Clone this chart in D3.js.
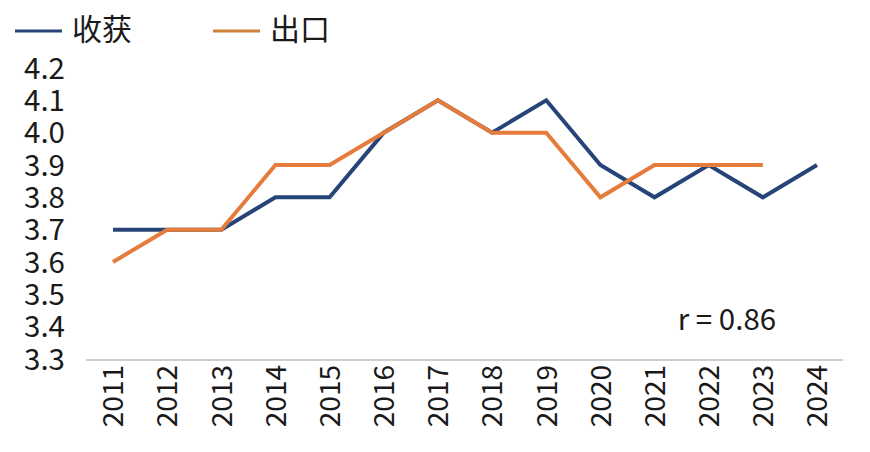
<!DOCTYPE html>
<html><head><meta charset="utf-8">
<script src="https://cdn.jsdelivr.net/npm/d3@7"></script>
<style>body{margin:0;background:#fff}svg{display:block}text{font-family:"Noto Sans CJK SC","Noto Sans",sans-serif;fill:#1a1a1a}</style>
</head><body><svg id="c" width="870" height="452"></svg>
<script>
const years = ["2011","2012","2013","2014","2015","2016","2017","2018","2019","2020","2021","2022","2023","2024"];
const harvest = [3.7,3.7,3.7,3.8,3.8,4.0,4.1,4.0,4.1,3.9,3.8,3.9,3.8,3.9];
const exportVals = [3.6,3.7,3.7,3.9,3.9,4.0,4.1,4.0,4.0,3.8,3.9,3.9,3.9];
const yTicks = [3.3,3.4,3.5,3.6,3.7,3.8,3.9,4.0,4.1,4.2];
const seriesNames = ["收获","出口"];
const colors = ["#264478","#E67C3C"];
const rText = "r = 0.86";

const svg = d3.select("#c");
const x = d3.scalePoint().domain(years).range([113,817]);
const y = d3.scaleLinear().domain([3.3,4.2]).range([359,68]);

// y labels
const ya = svg.append("g").attr("transform","translate(65,0)")
  .call(d3.axisLeft(y).tickValues(yTicks).tickFormat(d3.format(".1f")).tickSize(0).tickPadding(0));
ya.select(".domain").remove();
ya.selectAll("text").attr("font-size",29.5).attr("font-family",'"Noto Sans CJK SC",sans-serif').attr("fill","#1a1a1a").attr("dy","0.35em");

// x axis
const xa = svg.append("g").attr("transform","translate(0,360)")
  .call(d3.axisBottom(x).tickSize(0).tickPadding(0));
xa.select(".domain").remove();
svg.append("line").attr("x1",86).attr("x2",843).attr("y1",360).attr("y2",360).attr("stroke","#bfbfbf").attr("stroke-width",1.5);
xa.selectAll("text").attr("font-size",28).attr("font-family",'"Noto Sans CJK SC",sans-serif').attr("fill","#1a1a1a")
  .attr("text-anchor","end").attr("transform","translate(0,5) rotate(-90)").attr("dy","0.35em").attr("y",0).attr("x",0);

const line = d3.line().x((d,i)=>x(years[i])).y(d=>y(d));
svg.append("path").datum(harvest).attr("d",line).attr("fill","none").attr("stroke",colors[0]).attr("stroke-width",4).attr("stroke-linejoin","miter");
svg.append("path").datum(exportVals).attr("d",line).attr("fill","none").attr("stroke",colors[1]).attr("stroke-width",4).attr("stroke-linejoin","miter");

// legend
const lx = [15,213];
seriesNames.forEach((n,i)=>{
  svg.append("line").attr("x1",lx[i]).attr("x2",lx[i]+47).attr("y1",31).attr("y2",31).attr("stroke",i===0?colors[0]:"#D08238").attr("stroke-width",3);
  svg.append("text").attr("x",lx[i]+57).attr("y",29).attr("dy","0.35em").attr("font-size",30).text(n);
});

svg.append("text").attr("x",727).attr("y",330).attr("text-anchor","middle").attr("font-size",29.5).text(rText);
</script></body></html>
